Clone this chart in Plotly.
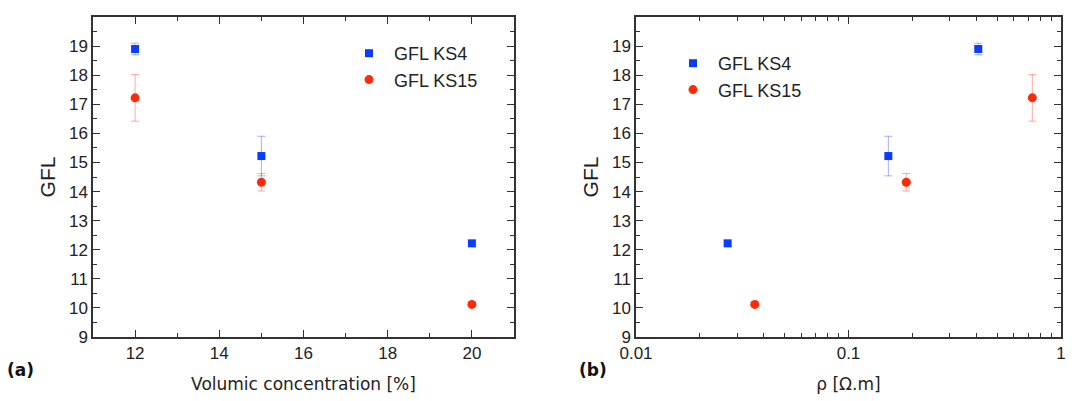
import plotly.graph_objects as go

# Data
conc = [12, 15, 20]
ks4_gfl = [18.9, 15.22, 12.22]
ks4_err = [0.2, 0.68, 0.08]
ks15_gfl = [17.22, 14.32, 10.12]
ks15_err = [0.8, 0.3, 0.08]
ks4_rho = [0.408, 0.154, 0.027]
ks15_rho = [0.733, 0.187, 0.0362]

BLUE = "#0a3cff"
RED = "#ff2a0a"
BLUE_E = "rgba(90,110,255,0.55)"
RED_E = "rgba(255,100,90,0.55)"

# page has an 8px body margin; figure is sized to fit the remaining window
W, H = 1067, 393
OFF = 8

def px(x):
    return (x - OFF) / W

def py(y):
    return 1 - (y - OFF) / H

fig = go.Figure()

def add(x, y, e, name, color, ecolor, symbol, size, xa, ya, legend):
    fig.add_trace(go.Scatter(
        x=x, y=y, mode="markers", name=name,
        marker=dict(color=color, symbol=symbol, size=size, line=dict(width=0)),
        error_y=dict(type="data", array=e, visible=True, color=ecolor, thickness=1, width=4),
        xaxis=xa, yaxis=ya, legend=legend))

add(conc, ks4_gfl, ks4_err, "GFL KS4", BLUE, BLUE_E, "square", 8, "x", "y", "legend")
add(conc, ks15_gfl, ks15_err, "GFL KS15", RED, RED_E, "circle", 9, "x", "y", "legend")
add(ks4_rho, ks4_gfl, ks4_err, "GFL KS4", BLUE, BLUE_E, "square", 8, "x2", "y2", "legend2")
add(ks15_rho, ks15_gfl, ks15_err, "GFL KS15", RED, RED_E, "circle", 9, "x2", "y2", "legend2")

tickfont = dict(family="Liberation Sans, Arial", size=17, color="#222")
titlefont_y = dict(family="Liberation Sans, Arial", size=21, color="#222")
titlefont_x = dict(family="DejaVu Sans, Verdana", size=17, color="#222")

common = dict(showline=True, linecolor="#333", linewidth=1.5, mirror="ticks",
              ticks="inside", ticklen=7, tickwidth=1.2, tickcolor="#333",
              showgrid=False, zeroline=False, tickfont=tickfont, automargin=False)

ydom = [py(337), py(17)]
legfont = dict(family="Liberation Sans, Arial", size=18, color="#222")
fig.update_layout(
    width=W, height=H,
    margin=dict(l=0, r=0, t=0, b=0),
    paper_bgcolor="white", plot_bgcolor="white",
    showlegend=True,
    xaxis=dict(domain=[px(93), px(514)], range=[11, 21], tickvals=[12, 14, 16, 18, 20],
               minor=dict(ticks="inside", dtick=1, ticklen=4, tickcolor="#333", tickwidth=1),
               title=dict(text="Volumic concentration [%]", font=titlefont_x, standoff=16),
               anchor="y", **common),
    yaxis=dict(domain=ydom, range=[9, 20], dtick=1,
               minor=dict(ticks="inside", dtick=0.5, ticklen=4, tickcolor="#333", tickwidth=1),
               title=dict(text="GFL", font=titlefont_y, standoff=8),
               anchor="x", **common),
    xaxis2=dict(domain=[px(636), px(1061)], type="log", range=[-2, 0],
                tickvals=[0.01, 0.1, 1], ticktext=["0.01", "0.1", "1"],
                minor=dict(ticks="inside", tickvals=[0.02, 0.03, 0.04, 0.05, 0.06, 0.07, 0.08, 0.09,
                                                     0.2, 0.3, 0.4, 0.5, 0.6, 0.7, 0.8, 0.9],
                           ticklen=4, tickcolor="#333", tickwidth=1),
                title=dict(text="ρ [Ω.m]", font=titlefont_x, standoff=16),
                anchor="y2", **common),
    yaxis2=dict(domain=ydom, range=[9, 20], dtick=1,
                minor=dict(ticks="inside", dtick=0.5, ticklen=4, tickcolor="#333", tickwidth=1),
                title=dict(text="GFL", font=titlefont_y, standoff=8),
                anchor="x2", **common),
    legend=dict(x=px(344), y=py(35), xanchor="left", yanchor="top",
                bgcolor="rgba(0,0,0,0)", font=legfont, itemwidth=40, tracegroupgap=0),
    legend2=dict(x=px(668), y=py(45), xanchor="left", yanchor="top",
                 bgcolor="rgba(0,0,0,0)", font=legfont, itemwidth=40, tracegroupgap=0),
    annotations=[
        dict(text="<b>(a)</b>", x=px(5), y=py(370), xref="paper", yref="paper",
             xanchor="left", yanchor="middle", showarrow=False,
             font=dict(family="DejaVu Sans, Verdana", size=17, color="#111")),
        dict(text="<b>(b)</b>", x=px(577), y=py(370), xref="paper", yref="paper",
             xanchor="left", yanchor="middle", showarrow=False,
             font=dict(family="DejaVu Sans, Verdana", size=17, color="#111")),
    ],
)

fig.write_html("out.html")
